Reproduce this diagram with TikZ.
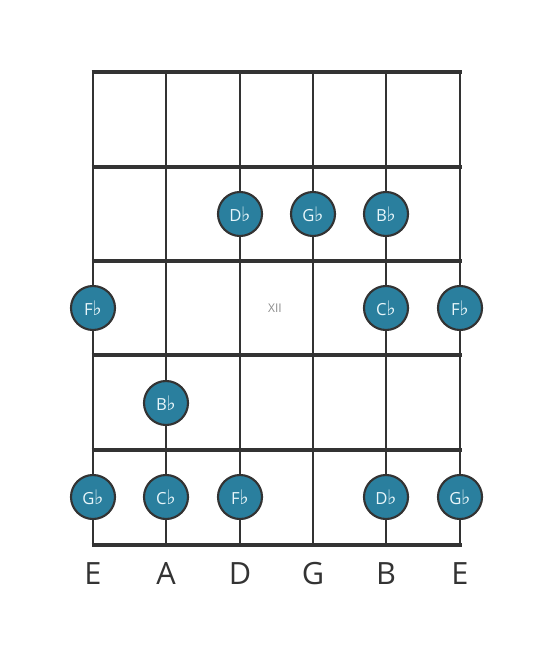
\documentclass[tikz,border=0pt]{standalone}
\usepackage{fontspec}
\setmainfont{Open Sans}
\newfontfamily\symfont{DejaVu Sans}
\definecolor{linegray}{HTML}{333333}
\definecolor{dotblue}{HTML}{2A7F9E}
\definecolor{dottext}{HTML}{E8F6FA}
\newcommand{\fl}{{\symfont\kern-0.3pt\fontsize{15}{15}\selectfont ♭}}
\tikzset{
  dot/.style={circle,draw=linegray,line width=1.6pt,fill=dotblue,minimum size=33pt,inner sep=0pt,text=dottext,font=\fontsize{12.5}{14}\selectfont},
  fretline/.style={draw=linegray,line width=3.6pt},
  stringline/.style={draw=linegray,line width=2.2pt},
  strname/.style={font=\fontsize{23}{26}\selectfont,text=linegray,inner sep=0.75pt}
}
\begin{document}
\begin{tikzpicture}[x=0.75pt,y=0.75pt,yscale=-1,xscale=1]
    \useasboundingbox (0,0) rectangle (553,656);
    %Strings
    \draw [stringline]   (93,72) -- (93,545) ;
    \draw [stringline]   (166,72) -- (166,545) ;
    \draw [stringline]   (240,72) -- (240,545) ;
    \draw [stringline]   (313,72) -- (313,545) ;
    \draw [stringline]   (386,72) -- (386,545) ;
    \draw [stringline]   (460,72) -- (460,545) ;
    %Frets
    \draw [fretline]   (91.5,72) -- (461.5,72) ;
    \draw [fretline]   (91.5,167) -- (461.5,167) ;
    \draw [fretline]   (91.5,261) -- (461.5,261) ;
    \draw [fretline]   (91.5,355) -- (461.5,355) ;
    \draw [fretline]   (91.5,450) -- (461.5,450) ;
    \draw [fretline]   (91.5,545) -- (461.5,545) ;
    % Fret marker
    \draw (275,308) node [font=\fontsize{9}{10}\selectfont,text=gray!90] (xii) {XII};
    % Notes, fret 11
    \draw (240,214) node [dot] (db11) {D\fl};
    \draw (313,214) node [dot] (gb11) {G\fl};
    \draw (386,214) node [dot] (bb11) {B\fl};
    % Notes, fret 12
    \draw (93,308) node [dot] (fb12a) {F\fl};
    \draw (386,308) node [dot] (cb12) {C\fl};
    \draw (460,308) node [dot] (fb12b) {F\fl};
    % Notes, fret 13
    \draw (166,403) node [dot] (bb13) {B\fl};
    % Notes, fret 14
    \draw (93,497) node [dot] (gb14a) {G\fl};
    \draw (166,497) node [dot] (cb14) {C\fl};
    \draw (240,497) node [dot] (fb14) {F\fl};
    \draw (386,497) node [dot] (db14) {D\fl};
    \draw (460,497) node [dot] (gb14b) {G\fl};
    % String names
    \draw (93,574) node [strname] (s6) {E};
    \draw (166,574) node [strname] (s5) {A};
    \draw (240,574) node [strname] (s4) {D};
    \draw (313,574) node [strname] (s3) {G};
    \draw (386,574) node [strname] (s2) {B};
    \draw (460,574) node [strname] (s1) {E};
\end{tikzpicture}
\end{document}
